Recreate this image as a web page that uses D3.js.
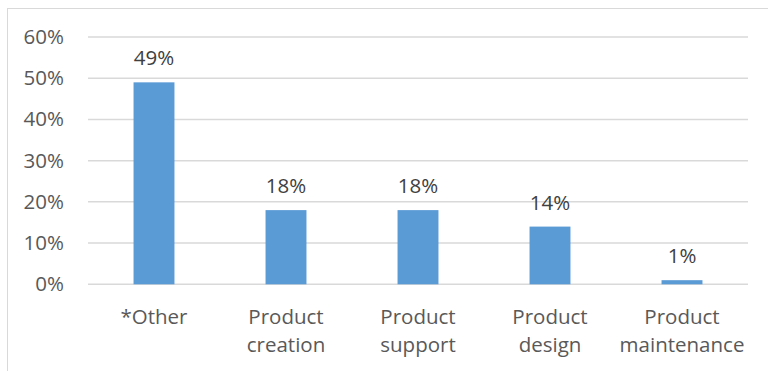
<!DOCTYPE html>
<html>
<head>
<meta charset="utf-8">
<script src="https://cdn.jsdelivr.net/npm/d3@7"></script>
<style>
  body { margin: 0; background: #fff; }
  svg { display: block; }
</style>
</head>
<body>
<svg id="chart" width="768" height="371"></svg>
<script>
const categories = [["*Other"], ["Product", "creation"], ["Product", "support"], ["Product", "design"], ["Product", "maintenance"]];
const values = [0.49, 0.18, 0.18, 0.14, 0.01];
const yTicks = [0, 0.1, 0.2, 0.3, 0.4, 0.5, 0.6];

const font_family = "'Open Sans', sans-serif";
const font_color = "#595959";
const font_size = 20.5;
const bar_color = "#5b9bd5";
const grid_color = "#d9d9d9";

const margin = { top: 37, left: 88, right: 20, bottom: 87 };
const width = 768, height = 371;

const svg = d3.select("#chart");

// Outer chart border (cropped on right and bottom)
svg.append("rect")
  .attr("x", 7.5).attr("y", 8.5)
  .attr("width", 800).attr("height", 400)
  .attr("fill", "none")
  .attr("stroke", grid_color)
  .attr("stroke-width", 1);

const x = d3.scaleBand()
  .domain(d3.range(categories.length))
  .range([margin.left, width - margin.right])
  .paddingInner(0.69)
  .paddingOuter(0.345);

const y = d3.scaleLinear()
  .domain([0, 0.6])
  .range([284.3, 37]);

// Gridlines
svg.append("g")
  .selectAll("line")
  .data(yTicks)
  .join("line")
  .attr("x1", margin.left)
  .attr("x2", width - margin.right)
  .attr("y1", d => y(d))
  .attr("y2", d => y(d))
  .attr("stroke", grid_color)
  .attr("stroke-width", 1.5);

// Y axis labels
const yAxis = svg.append("g")
  .attr("transform", `translate(64,0)`)
  .call(d3.axisLeft(y).tickValues(yTicks).tickSize(0).tickPadding(0).tickFormat(d3.format(".0%")));
yAxis.select(".domain").remove();
yAxis.selectAll("text")
  .attr("fill", font_color)
  .style("font-family", font_family)
  .style("font-size", font_size + "px");

// Bars
svg.append("g")
  .selectAll("rect")
  .data(values)
  .join("rect")
  .attr("x", (d, i) => x(i))
  .attr("width", x.bandwidth())
  .attr("y", d => y(d))
  .attr("height", d => y(0) - y(d))
  .attr("fill", bar_color);

// Value labels
svg.append("g")
  .selectAll("text")
  .data(values)
  .join("text")
  .attr("x", (d, i) => x(i) + x.bandwidth() / 2)
  .attr("y", d => y(d) - 17)
  .attr("text-anchor", "middle")
  .attr("fill", "#404040")
  .style("font-family", font_family)
  .style("font-size", font_size + "px")
  .text(d => d3.format(".0%")(d));

// Category labels
const cat = svg.append("g")
  .selectAll("text")
  .data(categories)
  .join("text")
  .attr("x", (d, i) => x(i) + x.bandwidth() / 2)
  .attr("y", 324)
  .attr("text-anchor", "middle")
  .attr("fill", font_color)
  .style("font-family", font_family)
  .style("font-size", font_size + "px");

cat.selectAll("tspan")
  .data(d => d)
  .join("tspan")
  .attr("x", function () { return d3.select(this.parentNode).attr("x"); })
  .attr("dy", (d, i) => i === 0 ? 0 : 28)
  .text(d => d);
</script>
</body>
</html>
